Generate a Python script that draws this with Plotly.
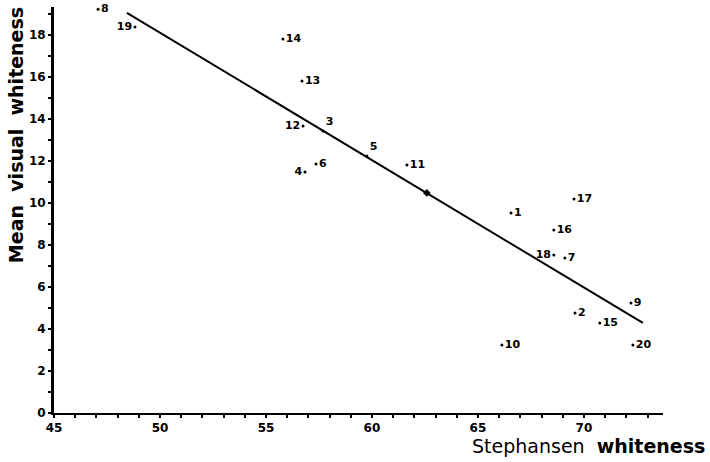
import plotly.graph_objects as go

# Sample data
sample_ids = ["1", "2", "3", "4", "5", "6", "7", "8", "9", "10",
              "11", "12", "13", "14", "15", "16", "17", "18", "19", "20"]
stephansen = [66.56, 69.58, 57.69, 56.84, 59.76, 57.36, 69.10, 47.08, 72.22, 66.13,
              61.65, 56.75, 56.70, 55.80, 70.75, 68.58, 69.53, 68.58, 48.82, 72.31]
visual = [9.52, 4.76, 13.43, 11.48, 12.24, 11.86, 7.38, 19.22, 5.24, 3.24,
          11.81, 13.67, 15.81, 17.81, 4.29, 8.71, 10.19, 7.52, 18.38, 3.24]
label_side = ["middle right", "middle right", "top right", "middle left", "top right",
              "middle right", "middle right", "middle right", "middle right", "middle right",
              "middle right", "middle left", "middle right", "middle right", "middle right",
              "middle right", "middle right", "middle left", "middle left", "middle right"]

# Regression line end points and mean point
line_x = [48.44, 72.78]
line_y = [19.05, 4.29]
mean_x = [62.59]
mean_y = [10.48]

x_ticks = [45, 50, 55, 60, 65, 70]
y_ticks = [0, 2, 4, 6, 8, 10, 12, 14, 16, 18]

fig = go.Figure()
fig.add_trace(go.Scatter(x=line_x, y=line_y, mode="lines",
                         line=dict(color="black", width=2), showlegend=False,
                         cliponaxis=False))
fig.add_trace(go.Scatter(x=mean_x, y=mean_y, mode="markers",
                         marker=dict(symbol="diamond", size=6, color="black"),
                         showlegend=False))
fig.add_trace(go.Scatter(x=stephansen, y=visual, mode="markers+text",
                         text=sample_ids, textposition=label_side,
                         textfont=dict(family="DejaVu Sans", size=11, color="black", weight="bold"),
                         marker=dict(size=3, color="black"),
                         showlegend=False, cliponaxis=False))

fig.update_layout(
    width=710, height=462,
    margin=dict(l=54, r=47, t=7, b=49),
    paper_bgcolor="white", plot_bgcolor="white",
    font=dict(family="DejaVu Sans", color="black"),
    xaxis=dict(range=[45, 73.73], tickvals=x_ticks, showgrid=False, zeroline=False,
               showline=True, linecolor="black", linewidth=2,
               ticks="outside", ticklen=3, tickwidth=2, tickcolor="black",
               tickfont=dict(family="DejaVu Sans", size=12, weight="bold"),
               minor=dict(dtick=1, ticks="outside", ticklen=3, tickwidth=1.5, tickcolor="black")),
    yaxis=dict(range=[0, 19.33], tickvals=y_ticks, showgrid=False, zeroline=False,
               showline=True, linecolor="black", linewidth=3,
               ticks="outside", ticklen=3, tickwidth=2, tickcolor="black",
               tickfont=dict(family="DejaVu Sans", size=12, weight="bold"),
               minor=dict(dtick=1, ticks="outside", ticklen=3, tickwidth=1.5, tickcolor="black")),
    annotations=[
        dict(text="Stephansen&nbsp;&nbsp;<b>whiteness</b>", xref="paper", yref="paper",
             x=1.072, y=-0.0812, xanchor="right", yanchor="middle", showarrow=False,
             font=dict(family="DejaVu Sans", size=19, color="black")),
        dict(text="<b>Mean&nbsp;&nbsp;visual&nbsp;&nbsp;whiteness</b>", xref="paper", yref="paper",
             x=-0.062, y=0.685, xanchor="center", yanchor="middle", textangle=-90,
             showarrow=False, font=dict(family="DejaVu Sans", size=19, color="black")),
    ],
)

fig.write_html("out.html")
